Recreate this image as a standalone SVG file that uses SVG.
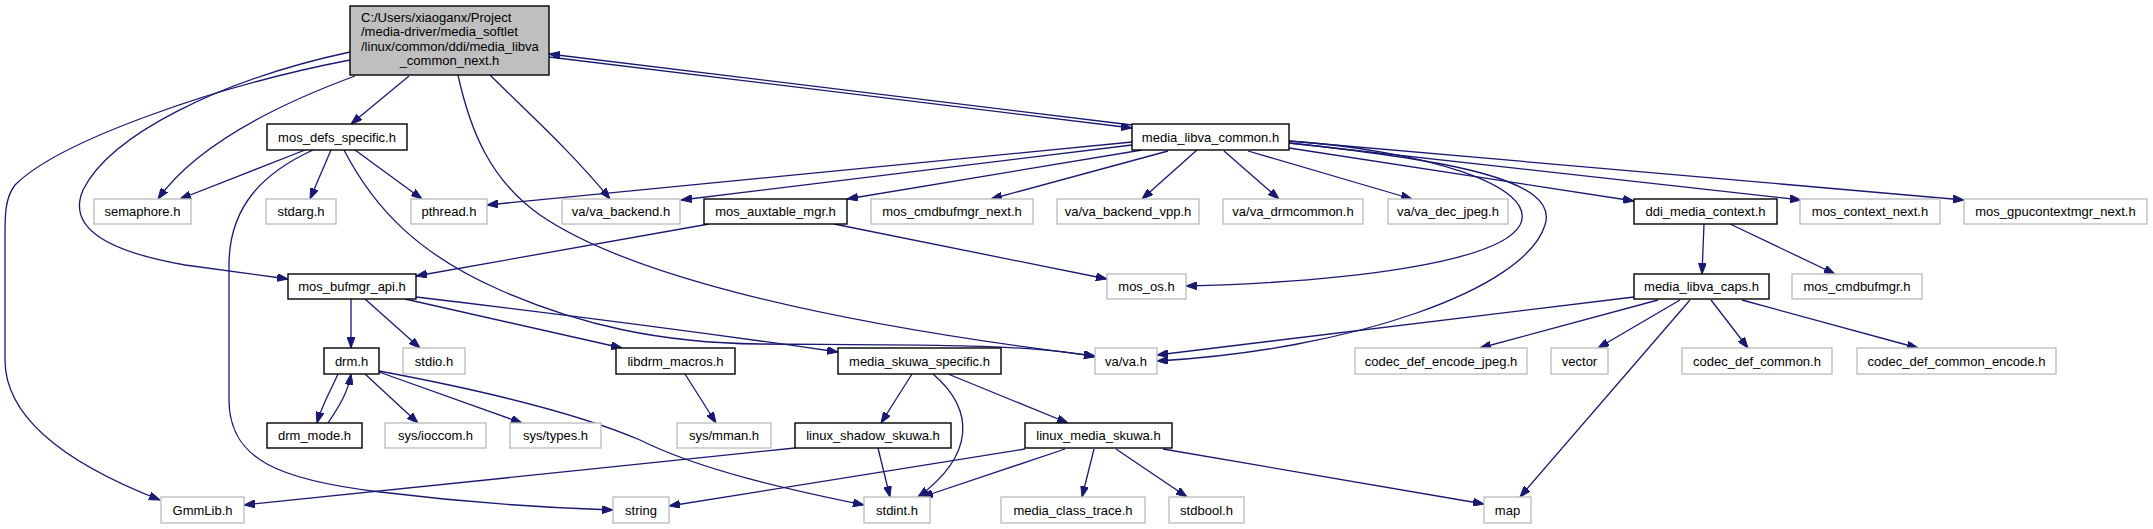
<svg xmlns="http://www.w3.org/2000/svg" width="2153" height="529" viewBox="0 0 2153 529">
<defs>
<marker id="ah" viewBox="0 0 11 8" refX="11" refY="4" markerWidth="11" markerHeight="8" markerUnits="userSpaceOnUse" orient="auto">
<path d="M0,0 L11,4 L0,8 z" fill="#191970" stroke="#191970" stroke-width="1"/>
</marker>
</defs>
<style>
.n{fill:#ffffff;stroke:#000000;stroke-width:1.4}
.g{fill:#ffffff;stroke:#bfbfbf;stroke-width:1.4}
.r{fill:#bfbfbf;stroke:#000000;stroke-width:1.4}
text{font-family:"Liberation Sans",Arial,sans-serif;font-size:13px;fill:#000000}
.c{text-anchor:middle}
.e{fill:none;stroke:#191970;stroke-width:1.3;marker-end:url(#ah)}
</style>
<rect width="2153" height="529" fill="#ffffff"/>
<g id="edges">
<path class="e" d="M549,57 L1132,128"/>
<path class="e" d="M1132,125 L549,54"/>
<path class="e" d="M355,76 C290,100 200,140 158,199"/>
<path class="e" d="M409,76 L351,124"/>
<path class="e" d="M350,52 C220,80 110,135 83,190 C68,225 100,250 185,265 C230,271 260,275 288,279"/>
<path class="e" d="M350,60 C220,85 60,140 15,185 C5,198 5,215 5,235 L5,360 C5,420 70,465 160,500"/>
<path class="e" d="M490,75 C525,110 570,150 610,199"/>
<path class="e" d="M458,75 C470,130 490,180 540,215 C620,270 800,320 1095,356"/>
<path class="e" d="M305,150 L180,199"/>
<path class="e" d="M331,150 L310,199"/>
<path class="e" d="M355,150 L422,199"/>
<path class="e" d="M313,150 C265,172 229,205 229,265 L229,400 C229,460 280,480 380,492 C470,503 550,508 613,510"/>
<path class="e" d="M344,150 C375,210 420,255 500,290 C580,325 660,343 760,344 C900,345 1030,343 1095,357"/>
<path class="e" d="M351,299 L351,348"/>
<path class="e" d="M365,299 L420,348"/>
<path class="e" d="M405,299 L622,348"/>
<path class="e" d="M416,297 C560,314 700,332 838,352"/>
<path class="e" d="M338,374 C330,392 322,405 317,423"/>
<path class="e" d="M328,423 C340,405 348,392 351,374"/>
<path class="e" d="M365,374 L418,423"/>
<path class="e" d="M379,372 L522,423"/>
<path class="e" d="M379,371 C470,388 570,410 640,440 C700,470 790,490 864,505"/>
<path class="e" d="M685,374 L716,423"/>
<path class="e" d="M912,374 L881,423"/>
<path class="e" d="M933,374 C975,410 975,455 918,497"/>
<path class="e" d="M948,374 L1068,423"/>
<path class="e" d="M795,448 L244,505"/>
<path class="e" d="M878,448 L890,497"/>
<path class="e" d="M1025,449 L669,506"/>
<path class="e" d="M1065,449 L922,497"/>
<path class="e" d="M1094,449 L1082,497"/>
<path class="e" d="M1116,449 L1187,497"/>
<path class="e" d="M1163,449 L1484,504"/>
<path class="e" d="M1132,142 L487,205"/>
<path class="e" d="M1132,145 L681,200"/>
<path class="e" d="M1142,150 L847,199"/>
<path class="e" d="M1168,151 L991,199"/>
<path class="e" d="M1197,150 L1142,199"/>
<path class="e" d="M1224,151 L1279,199"/>
<path class="e" d="M1248,151 L1412,199"/>
<path class="e" d="M1289,148 L1634,201"/>
<path class="e" d="M1289,143 L1801,200"/>
<path class="e" d="M1289,141 L1964,200"/>
<path class="e" d="M1289,141 C1420,150 1540,185 1520,225 C1500,262 1350,282 1186,286"/>
<path class="e" d="M1289,143 C1450,160 1560,180 1545,225 C1525,290 1350,350 1157,361"/>
<path class="e" d="M709,224 L416,276"/>
<path class="e" d="M834,224 L1107,279"/>
<path class="e" d="M1704,224 L1702,274"/>
<path class="e" d="M1730,224 L1835,274"/>
<path class="e" d="M1634,297 L1157,355"/>
<path class="e" d="M1658,300 L1480,348"/>
<path class="e" d="M1680,300 L1598,348"/>
<path class="e" d="M1690,300 L1520,497"/>
<path class="e" d="M1711,300 L1748,348"/>
<path class="e" d="M1742,300 L1918,348"/>
</g>
<g id="root"><rect class="r" x="350" y="6" width="199" height="69"/>
<text x="361" y="21.5">C:/Users/xiaoganx/Project</text>
<text x="361" y="36">/media-driver/media_softlet</text>
<text x="361" y="50.5">/linux/common/ddi/media_libva</text>
<text class="c" x="449.5" y="65">_common_next.h</text></g>
<g id="mos_defs_specific"><rect class="n" x="267" y="124" width="140" height="26"/><text class="c" x="337" y="141.5">mos_defs_specific.h</text></g>
<g id="media_libva_common"><rect class="n" x="1132" y="124" width="157" height="26"/><text class="c" x="1210.5" y="141.5">media_libva_common.h</text></g>
<g id="semaphore"><rect class="g" x="94" y="199" width="97" height="25"/><text class="c" x="142.5" y="216">semaphore.h</text></g>
<g id="stdarg"><rect class="g" x="266" y="199" width="70" height="25"/><text class="c" x="301" y="216">stdarg.h</text></g>
<g id="pthread"><rect class="g" x="411" y="199" width="76" height="25"/><text class="c" x="449" y="216">pthread.h</text></g>
<g id="va_backend"><rect class="g" x="562" y="199" width="118" height="25"/><text class="c" x="621" y="216">va/va_backend.h</text></g>
<g id="mos_auxtable_mgr"><rect class="n" x="704" y="199" width="143" height="25"/><text class="c" x="775.5" y="216">mos_auxtable_mgr.h</text></g>
<g id="mos_cmdbufmgr_next"><rect class="g" x="871" y="199" width="162" height="25"/><text class="c" x="952" y="216">mos_cmdbufmgr_next.h</text></g>
<g id="va_backend_vpp"><rect class="g" x="1057" y="199" width="142" height="25"/><text class="c" x="1128" y="216">va/va_backend_vpp.h</text></g>
<g id="va_drmcommon"><rect class="g" x="1223" y="199" width="140" height="25"/><text class="c" x="1293" y="216">va/va_drmcommon.h</text></g>
<g id="va_dec_jpeg"><rect class="g" x="1388" y="199" width="120" height="25"/><text class="c" x="1448" y="216">va/va_dec_jpeg.h</text></g>
<g id="ddi_media_context"><rect class="n" x="1634" y="199" width="143" height="25"/><text class="c" x="1705.5" y="216">ddi_media_context.h</text></g>
<g id="mos_context_next"><rect class="g" x="1800" y="199" width="140" height="25"/><text class="c" x="1870" y="216">mos_context_next.h</text></g>
<g id="mos_gpucontextmgr_next"><rect class="g" x="1964" y="199" width="183" height="25"/><text class="c" x="2055.5" y="216">mos_gpucontextmgr_next.h</text></g>
<g id="mos_bufmgr_api"><rect class="n" x="288" y="274" width="128" height="25"/><text class="c" x="352" y="291">mos_bufmgr_api.h</text></g>
<g id="mos_os"><rect class="g" x="1107" y="274" width="79" height="25"/><text class="c" x="1146.5" y="291">mos_os.h</text></g>
<g id="media_libva_caps"><rect class="n" x="1634" y="274" width="135" height="25"/><text class="c" x="1701.5" y="291">media_libva_caps.h</text></g>
<g id="mos_cmdbufmgr"><rect class="g" x="1792" y="274" width="130" height="25"/><text class="c" x="1857" y="291">mos_cmdbufmgr.h</text></g>
<g id="drm"><rect class="n" x="324" y="348" width="55" height="26"/><text class="c" x="351.5" y="365.5">drm.h</text></g>
<g id="stdio"><rect class="g" x="403" y="348" width="62" height="26"/><text class="c" x="434" y="365.5">stdio.h</text></g>
<g id="libdrm_macros"><rect class="n" x="616" y="348" width="119" height="26"/><text class="c" x="675.5" y="365.5">libdrm_macros.h</text></g>
<g id="media_skuwa_specific"><rect class="n" x="838" y="348" width="163" height="26"/><text class="c" x="919.5" y="365.5">media_skuwa_specific.h</text></g>
<g id="va_va"><rect class="g" x="1095" y="348" width="62" height="26"/><text class="c" x="1126" y="365.5">va/va.h</text></g>
<g id="codec_def_encode_jpeg"><rect class="g" x="1355" y="348" width="172" height="26"/><text class="c" x="1441" y="365.5">codec_def_encode_jpeg.h</text></g>
<g id="vector"><rect class="g" x="1551" y="348" width="57" height="26"/><text class="c" x="1579.5" y="365.5">vector</text></g>
<g id="codec_def_common"><rect class="g" x="1682" y="348" width="150" height="26"/><text class="c" x="1757" y="365.5">codec_def_common.h</text></g>
<g id="codec_def_common_encode"><rect class="g" x="1857" y="348" width="199" height="26"/><text class="c" x="1956.5" y="365.5">codec_def_common_encode.h</text></g>
<g id="drm_mode"><rect class="n" x="267" y="423" width="95" height="25"/><text class="c" x="314.5" y="440">drm_mode.h</text></g>
<g id="sys_ioccom"><rect class="g" x="385" y="423" width="101" height="25"/><text class="c" x="435.5" y="440">sys/ioccom.h</text></g>
<g id="sys_types"><rect class="g" x="510" y="423" width="91" height="25"/><text class="c" x="555.5" y="440">sys/types.h</text></g>
<g id="sys_mman"><rect class="g" x="677" y="423" width="94" height="25"/><text class="c" x="724" y="440">sys/mman.h</text></g>
<g id="linux_shadow_skuwa"><rect class="n" x="795" y="423" width="156" height="25"/><text class="c" x="873" y="440">linux_shadow_skuwa.h</text></g>
<g id="linux_media_skuwa"><rect class="n" x="1025" y="423" width="147" height="25"/><text class="c" x="1098.5" y="440">linux_media_skuwa.h</text></g>
<g id="GmmLib"><rect class="g" x="161" y="497" width="83" height="26"/><text class="c" x="202.5" y="514.5">GmmLib.h</text></g>
<g id="string"><rect class="g" x="613" y="497" width="56" height="26"/><text class="c" x="641" y="514.5">string</text></g>
<g id="stdint"><rect class="g" x="864" y="497" width="66" height="26"/><text class="c" x="897" y="514.5">stdint.h</text></g>
<g id="media_class_trace"><rect class="g" x="1001" y="497" width="144" height="26"/><text class="c" x="1073" y="514.5">media_class_trace.h</text></g>
<g id="stdbool"><rect class="g" x="1169" y="497" width="75" height="26"/><text class="c" x="1206.5" y="514.5">stdbool.h</text></g>
<g id="map"><rect class="g" x="1484" y="497" width="47" height="26"/><text class="c" x="1507.5" y="514.5">map</text></g>
</svg>
